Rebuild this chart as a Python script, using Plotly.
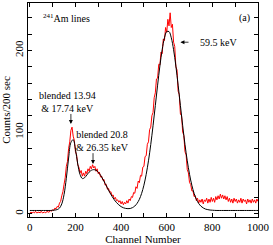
import plotly.graph_objects as go

# Measured spectrum (every 5 channels)
red_ch = list(range(0, 1001, 5))
red_counts = [
    1, 2, 1, 2, 1, 3, 1, 2, 2, 1, 3, 1, 2, 2, 1, 3, 2, 2, 4, 3,
    5, 4, 7, 6, 9, 8, 13, 15, 22, 27, 36, 44, 58, 64, 80, 88, 102, 106, 95, 90,
    76, 72, 60, 57, 50, 53, 46, 50, 46, 52, 49, 55, 52, 58, 55, 60, 56, 58, 52, 55,
    49, 51, 45, 46, 41, 42, 35, 36, 30, 31, 26, 27, 22, 23, 18, 20, 16, 17, 14, 16,
    12, 15, 11, 14, 12, 16, 13, 18, 16, 21, 20, 26, 25, 33, 31, 40, 38, 47, 46, 57,
    58, 70, 71, 85, 88, 103, 106, 120, 124, 142, 148, 165, 166, 183, 182, 198, 196, 214, 212, 228,
    222, 238, 230, 246, 228, 232, 210, 205, 180, 176, 150, 146, 122, 120, 100, 96, 76, 72, 54, 50,
    38, 36, 28, 28, 21, 22, 16, 19, 13, 17, 14, 18, 12, 17, 15, 19, 13, 18, 14, 20,
    15, 19, 14, 21, 17, 22, 18, 24, 19, 23, 18, 22, 17, 21, 15, 19, 14, 18, 13, 19,
    15, 18, 13, 17, 14, 19, 13, 18, 15, 17, 12, 18, 14, 17, 13, 18, 14, 17, 13, 18,
    15,
]

# Fitted curve (every 10 channels)
fit_ch = list(range(0, 1001, 10))
fit_counts = [
    4, 4, 4, 4, 4, 4, 4, 4, 4, 4,
    4.2, 4.5, 5.1, 6.9, 12.0, 23.5, 43.4, 68.2, 87.2, 90.7,
    78.8, 61.0, 48.1, 43.1, 44.1, 47.5, 50.9, 53.2, 54.0, 53.2,
    50.8, 47.1, 42.4, 37.1, 31.6, 26.2, 21.4, 17.1, 13.6, 10.9,
    8.7, 7.3, 6.5, 6.2, 6.4, 7.5, 9.4, 12.7, 17.6, 24.9,
    34.9, 48.2, 64.8, 84.8, 107.7, 132.4, 157.4, 180.9, 200.8, 215.4,
    223, 223, 215.4, 200.8, 180.9, 157.4, 132.4, 107.7, 84.8, 64.8,
    48.2, 34.9, 24.9, 17.6, 12.6, 9.2, 7.1, 5.7, 5.0, 4.5,
    4.3, 4.1, 4, 4, 4, 4, 4, 4, 4, 4,
    4, 4, 4, 4, 4, 4, 4, 4, 4, 4, 4,
]

x_ticks = [0, 200, 400, 600, 800, 1000]
y_ticks = [0, 100, 200]

FONT = "Liberation Serif"

fig = go.Figure()
fig.add_trace(go.Scatter(x=red_ch, y=red_counts, mode="lines",
                         line=dict(color="#ff0000", width=1), showlegend=False))
fig.add_trace(go.Scatter(x=fit_ch, y=fit_counts, mode="lines", line_shape="spline",
                         line=dict(color="black", width=1), showlegend=False))

axis_common = dict(showline=True, linecolor="black", linewidth=1, mirror="ticks",
                   ticks="inside", ticklen=4, tickcolor="black", tickwidth=1,
                   showgrid=False, zeroline=False,
                   tickfont=dict(family=FONT, size=11, color="black"))

fig.update_xaxes(range=[-8, 1000], tickvals=x_ticks, ticktext=[str(v) for v in x_ticks],
                 minor=dict(ticks="inside", dtick=100, tick0=0, ticklen=4, tickcolor="black"),
                 title=dict(text="Channel Number", font=dict(family=FONT, size=11, color="black"), standoff=2),
                 **axis_common)
fig.update_yaxes(range=[-4, 258], tickvals=y_ticks, ticktext=[str(v) for v in y_ticks],
                 tickangle=-90,
                 minor=dict(ticks="inside", dtick=20, tick0=0, ticklen=4, tickcolor="black"),
                 title=dict(text="Counts/200 sec", font=dict(family=FONT, size=11, color="black"), standoff=2),
                 **axis_common)

ann_font = dict(family=FONT, size=10, color="black")
annotations = [
    dict(x=48, y=240, text="<sup>241</sup>Am lines", showarrow=False, xanchor="left", font=ann_font),
    dict(x=943, y=240, text="(a)", showarrow=False, font=ann_font),
    dict(x=737, y=210, text="59.5 keV", showarrow=False, xanchor="left", font=ann_font),
    dict(x=660, y=210, ax=702, ay=210, axref="x", ayref="y", text="", showarrow=True,
         arrowhead=2, arrowsize=1, arrowwidth=0.8, arrowcolor="black"),
    dict(x=165, y=137, text="blended 13.94<br>&amp; 17.74 keV", showarrow=False, font=ann_font),
    dict(x=180, y=110, ax=180, ay=124, axref="x", ayref="y", text="", showarrow=True,
         arrowhead=2, arrowsize=1, arrowwidth=0.8, arrowcolor="black"),
    dict(x=318, y=89, text="blended 20.8<br>&amp; 26.35 keV", showarrow=False, font=ann_font),
    dict(x=277, y=61, ax=277, ay=76, axref="x", ayref="y", text="", showarrow=True,
         arrowhead=2, arrowsize=1, arrowwidth=0.8, arrowcolor="black"),
]
fig.update_layout(width=273, height=245, margin=dict(l=28, r=15, t=2, b=26),
                  plot_bgcolor="white", paper_bgcolor="white",
                  font=dict(family=FONT, size=11, color="black"),
                  annotations=annotations)

fig.write_html("out.html", config={"displayModeBar": False},
               post_script="document.body.style.margin='0';")
